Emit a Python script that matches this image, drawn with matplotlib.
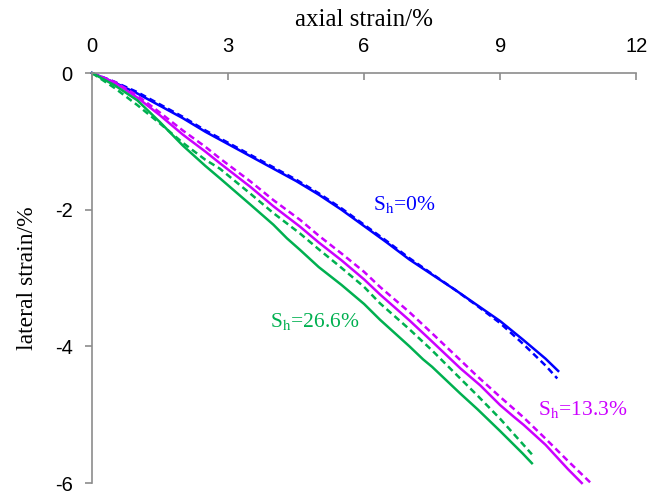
import matplotlib
matplotlib.use("Agg")
import matplotlib.pyplot as plt

# axial strain (%) vs lateral strain (%), solid = test, dashed = model
blue_x = [0, 0.5, 1, 1.5, 2, 2.5, 3, 3.5, 4, 4.5, 5, 5.5, 6, 6.5, 7, 7.5, 8, 8.5, 9, 9.5, 10, 10.28]
blue_y = [0, -0.14, -0.30, -0.48, -0.66, -0.86, -1.04, -1.22, -1.40, -1.58, -1.78, -2.00,
          -2.24, -2.48, -2.73, -2.95, -3.17, -3.40, -3.63, -3.90, -4.18, -4.36]
blue_dx = [0, 0.5, 1, 1.5, 2, 2.5, 3, 3.5, 4, 4.5, 5, 5.5, 6, 6.5, 7, 7.5, 8, 8.5, 9, 9.5, 10, 10.26]
blue_dy = [0, -0.13, -0.28, -0.46, -0.64, -0.84, -1.02, -1.20, -1.38, -1.56, -1.76, -1.98,
           -2.22, -2.46, -2.71, -2.94, -3.17, -3.41, -3.66, -3.96, -4.28, -4.47]

mag_x = [0, 0.5, 1, 1.5, 2, 2.5, 2.82, 3.5, 4, 4.59, 5, 5.5, 6, 6.35, 7, 7.5, 8.12, 8.56,
         9, 9.3, 9.52, 10, 10.5, 10.8]
mag_y = [0, -0.14, -0.36, -0.62, -0.90, -1.15, -1.32, -1.67, -1.95, -2.25, -2.48, -2.74,
         -3.02, -3.24, -3.62, -3.93, -4.32, -4.57, -4.86, -5.03, -5.15, -5.44, -5.80, -6.0]
mag_dx = [0, 0.5, 1, 1.5, 2, 2.5, 2.82, 3.5, 4, 4.59, 5, 5.5, 6, 6.35, 7, 7.5, 8.12, 8.5,
          9, 9.5, 10, 10.5, 11.0]
mag_dy = [0, -0.13, -0.33, -0.58, -0.84, -1.08, -1.25, -1.59, -1.86, -2.15, -2.38, -2.64,
          -2.91, -3.13, -3.50, -3.81, -4.20, -4.44, -4.74, -5.03, -5.35, -5.68, -6.0]

grn_x = [0, 0.5, 1, 1.5, 2, 2.5, 2.82, 3.5, 4, 4.3, 4.59, 5, 5.5, 6, 6.35, 7, 7.3, 7.5,
         8.12, 8.5, 9, 9.5, 9.7]
grn_y = [0, -0.18, -0.40, -0.72, -1.06, -1.36, -1.54, -1.93, -2.22, -2.42, -2.59, -2.84,
         -3.10, -3.38, -3.61, -4.00, -4.19, -4.30, -4.69, -4.92, -5.24, -5.57, -5.71]
grn_dx = [0, 0.5, 1, 1.5, 2, 2.5, 2.82, 3.5, 4, 4.59, 5, 5.5, 6, 6.35, 7, 7.5, 8.12, 8.5,
          9, 9.5, 9.7]
grn_dy = [0, -0.22, -0.47, -0.74, -1.02, -1.27, -1.40, -1.77, -2.05, -2.35, -2.58, -2.85,
          -3.13, -3.37, -3.75, -4.06, -4.47, -4.72, -5.06, -5.43, -5.58]

x_ticks = [0, 3, 6, 9, 12]
y_ticks = [0, -2, -4, -6]

plt.rcParams["mathtext.fontset"] = "stix"
serif = ["Liberation Serif", "DejaVu Serif"]
tickfont = ["Liberation Sans", "DejaVu Sans"]

fig = plt.figure(figsize=(6.62, 4.95), dpi=100)
ax = fig.add_axes([0.139, 0.0242, 0.822, 0.8283])

BLUE = "#0000ff"
MAG = "#cc00ff"
GRN = "#00b050"
lw = 1.8
dash = (0, (2.6, 1.6))

ax.plot(blue_x, blue_y, color=BLUE, lw=lw, clip_on=False)
ax.plot(blue_dx, blue_dy, color=BLUE, lw=lw, ls=dash, clip_on=False)
ax.plot(mag_x, mag_y, color=MAG, lw=lw, clip_on=False)
ax.plot(mag_dx, mag_dy, color=MAG, lw=lw, ls=dash, clip_on=False)
ax.plot(grn_x, grn_y, color=GRN, lw=lw, clip_on=False)
ax.plot(grn_dx, grn_dy, color=GRN, lw=lw, ls=dash, clip_on=False)

ax.set_xlim(0, 12)
ax.set_ylim(-6, 0)

# axes: only top and left, grey
for s in ["right", "bottom"]:
    ax.spines[s].set_visible(False)
for s in ["top", "left"]:
    ax.spines[s].set_color("#8c8c8c")
    ax.spines[s].set_linewidth(1.2)

ax.xaxis.set_ticks_position("top")
ax.xaxis.set_label_position("top")
ax.set_xticks(x_ticks)
ax.set_yticks(y_ticks)
ax.set_xticklabels([str(v) for v in x_ticks], family=tickfont, fontsize=14.5)
ax.set_yticklabels([str(v) for v in y_ticks], family=tickfont, fontsize=14.5)
ax.tick_params(axis="x", direction="in", length=5, width=1.2, color="#8c8c8c", pad=12)
ax.tick_params(axis="y", direction="out", length=5, width=1.2, color="#8c8c8c", pad=9)

ax.set_xlabel("axial strain/%", family=serif, fontsize=18, labelpad=8)
ax.set_ylabel("lateral strain/%", family=serif, fontsize=17, labelpad=12)

ax.text(6.9, -1.93, r"S$_\mathrm{h}$=0%", color=BLUE, family=serif, fontsize=15.5,
        ha="center", va="center")
ax.text(4.92, -3.64, r"S$_\mathrm{h}$=26.6%", color=GRN, family=serif, fontsize=15.5,
        ha="center", va="center")
ax.text(10.83, -4.93, r"S$_\mathrm{h}$=13.3%", color=MAG, family=serif, fontsize=15.5,
        ha="center", va="center")

plt.savefig("out.png", dpi=100)
